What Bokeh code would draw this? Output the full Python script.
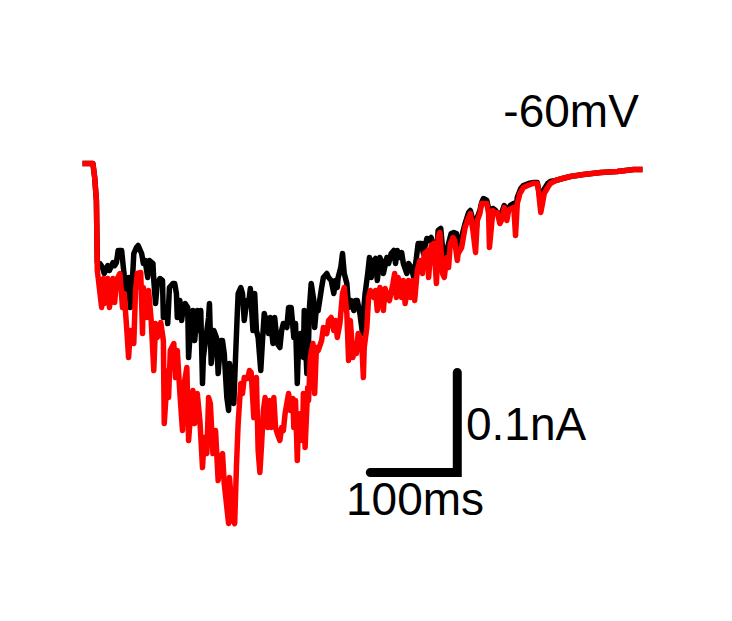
from bokeh.plotting import figure
from bokeh.models import Range1d, Label
from bokeh.embed import file_html
from bokeh.resources import INLINE

# Control trace (black): time in ms, current in nA (relative to holding)
t_black = [0, 12, 14, 16, 17, 20, 23, 25, 29, 31, 35, 37, 39, 41, 45, 47, 49, 52, 53, 55,
           58, 59, 62, 64, 68, 70, 72, 75, 77, 81, 82, 84, 86, 89, 92, 93, 97, 98, 100, 104,
           106, 108, 109, 112, 114, 116, 118, 121, 122, 124, 127, 129, 132, 133, 136, 138, 139, 143, 145, 146,
           148, 151, 154, 156, 159, 161, 163, 166, 168, 169, 171, 174, 176, 178, 179, 182, 184, 186, 189, 191,
           193, 196, 198, 200, 202, 205, 207, 209, 212, 214, 216, 219, 221, 224, 227, 229, 231, 235, 237, 240,
           243, 245, 247, 248, 251, 254, 255, 258, 260, 261, 263, 266, 267, 269, 271, 275, 277, 281, 283, 286,
           289, 291, 293, 294, 297, 299, 301, 304, 306, 309, 312, 314, 316, 319, 322, 323, 325, 328, 330, 332,
           335, 337, 339, 342, 345, 346, 350, 352, 355, 358, 360, 362, 365, 367, 369, 373, 375, 378, 381, 384,
           386, 390, 392, 396, 398, 401, 404, 407, 409, 412, 414, 416, 419, 421, 424, 427, 430, 432, 435, 437,
           440, 444, 446, 449, 452, 454, 457, 459, 461, 465, 467, 469, 472, 475, 478, 480, 483, 485, 489, 492,
           496, 498, 500, 504, 507, 513, 519, 523, 526, 528, 530, 535, 538, 544, 552, 561, 576, 596, 615, 634,
           644]
i_black = [0.000, 0.000, -0.014, -0.037, -0.099, -0.100, -0.104, -0.110, -0.102, -0.107, -0.099, -0.102, -0.099, -0.087, -0.087, -0.104, -0.120, -0.134, -0.114, -0.144,
           -0.107, -0.090, -0.084, -0.082, -0.090, -0.100, -0.097, -0.114, -0.097, -0.100, -0.117, -0.140, -0.120, -0.115, -0.117, -0.154, -0.144, -0.160, -0.124, -0.120,
           -0.120, -0.130, -0.154, -0.137, -0.157, -0.144, -0.140, -0.144, -0.194, -0.167, -0.147, -0.177, -0.147, -0.167, -0.147, -0.220, -0.194, -0.167, -0.154, -0.140,
           -0.200, -0.167, -0.174, -0.210, -0.177, -0.177, -0.190, -0.234, -0.247, -0.200, -0.210, -0.240, -0.194, -0.150, -0.130, -0.124, -0.130, -0.157, -0.137, -0.140,
           -0.125, -0.167, -0.130, -0.167, -0.174, -0.207, -0.177, -0.150, -0.160, -0.170, -0.154, -0.180, -0.154, -0.180, -0.184, -0.167, -0.160, -0.164, -0.144, -0.144,
           -0.174, -0.160, -0.220, -0.194, -0.170, -0.194, -0.147, -0.210, -0.177, -0.144, -0.120, -0.137, -0.164, -0.144, -0.147, -0.124, -0.114, -0.110, -0.114, -0.117,
           -0.130, -0.117, -0.124, -0.114, -0.104, -0.090, -0.110, -0.120, -0.144, -0.137, -0.147, -0.137, -0.137, -0.150, -0.170, -0.150, -0.130, -0.110, -0.094, -0.114,
           -0.097, -0.095, -0.117, -0.094, -0.100, -0.110, -0.094, -0.100, -0.090, -0.087, -0.100, -0.087, -0.094, -0.089, -0.100, -0.110, -0.100, -0.104, -0.114, -0.094,
           -0.080, -0.080, -0.090, -0.075, -0.077, -0.074, -0.084, -0.094, -0.067, -0.065, -0.084, -0.094, -0.087, -0.080, -0.070, -0.069, -0.070, -0.084, -0.080, -0.070,
           -0.060, -0.049, -0.047, -0.057, -0.074, -0.054, -0.047, -0.039, -0.035, -0.037, -0.045, -0.054, -0.045, -0.047, -0.050, -0.054, -0.047, -0.042, -0.047, -0.042,
           -0.040, -0.054, -0.034, -0.025, -0.022, -0.020, -0.019, -0.019, -0.034, -0.040, -0.027, -0.020, -0.018, -0.017, -0.015, -0.013, -0.011, -0.009, -0.008, -0.006,
           -0.006]

# Treated trace (red)
t_red = [0, 12, 14, 16, 17, 18, 22, 24, 25, 29, 31, 35, 37, 39, 43, 46, 48, 51, 53, 55,
         59, 61, 63, 67, 69, 70, 74, 76, 79, 82, 84, 86, 90, 93, 94, 98, 99, 101, 105, 107,
         109, 112, 115, 117, 120, 122, 124, 127, 129, 132, 135, 138, 140, 143, 145, 147, 150, 153, 156, 159,
         161, 163, 166, 168, 169, 173, 175, 177, 179, 182, 184, 186, 190, 192, 194, 197, 200, 202, 204, 206,
         208, 210, 213, 215, 217, 220, 222, 224, 227, 229, 231, 233, 237, 239, 242, 243, 245, 247, 248, 251,
         253, 254, 256, 259, 260, 262, 265, 267, 269, 271, 275, 277, 281, 283, 286, 289, 291, 293, 296, 299,
         301, 304, 306, 308, 311, 313, 315, 317, 321, 323, 324, 327, 329, 331, 335, 337, 339, 342, 344, 346,
         348, 351, 353, 357, 359, 361, 363, 367, 369, 371, 375, 377, 380, 382, 385, 388, 391, 393, 397, 398,
         401, 404, 407, 409, 411, 414, 416, 419, 421, 423, 426, 428, 431, 432, 436, 438, 440, 444, 446, 449,
         452, 454, 457, 459, 461, 465, 467, 468, 472, 474, 477, 480, 483, 485, 488, 490, 493, 496, 498, 500,
         503, 507, 512, 518, 523, 524, 527, 529, 531, 535, 538, 544, 552, 561, 576, 596, 615, 634, 644]
i_red = [0.000, 0.000, -0.014, -0.037, -0.107, -0.114, -0.144, -0.115, -0.140, -0.115, -0.144, -0.115, -0.139, -0.117, -0.110, -0.144, -0.130, -0.167, -0.194, -0.167,
         -0.180, -0.127, -0.110, -0.109, -0.170, -0.124, -0.154, -0.127, -0.157, -0.207, -0.160, -0.174, -0.159, -0.177, -0.260, -0.207, -0.234, -0.187, -0.180, -0.214,
         -0.187, -0.230, -0.267, -0.220, -0.204, -0.277, -0.254, -0.227, -0.260, -0.230, -0.257, -0.304, -0.274, -0.290, -0.234, -0.240, -0.290, -0.267, -0.317, -0.294,
         -0.290, -0.320, -0.344, -0.360, -0.314, -0.357, -0.360, -0.304, -0.260, -0.220, -0.230, -0.214, -0.215, -0.207, -0.209, -0.254, -0.214, -0.287, -0.309, -0.280,
         -0.247, -0.234, -0.264, -0.237, -0.264, -0.234, -0.264, -0.270, -0.277, -0.264, -0.267, -0.250, -0.230, -0.247, -0.235, -0.264, -0.237, -0.297, -0.270, -0.250,
         -0.277, -0.230, -0.284, -0.224, -0.237, -0.194, -0.180, -0.230, -0.184, -0.187, -0.177, -0.164, -0.170, -0.157, -0.154, -0.167, -0.157, -0.174, -0.160, -0.130,
         -0.124, -0.150, -0.197, -0.157, -0.194, -0.180, -0.190, -0.170, -0.177, -0.214, -0.184, -0.164, -0.134, -0.127, -0.134, -0.127, -0.147, -0.124, -0.130, -0.147,
         -0.125, -0.134, -0.137, -0.120, -0.110, -0.134, -0.114, -0.134, -0.117, -0.140, -0.117, -0.134, -0.117, -0.137, -0.107, -0.097, -0.110, -0.090, -0.087, -0.114,
         -0.082, -0.080, -0.120, -0.074, -0.069, -0.110, -0.114, -0.094, -0.104, -0.080, -0.074, -0.077, -0.097, -0.090, -0.084, -0.074, -0.064, -0.054, -0.050, -0.067,
         -0.089, -0.057, -0.050, -0.040, -0.040, -0.040, -0.050, -0.084, -0.047, -0.050, -0.049, -0.060, -0.055, -0.044, -0.057, -0.047, -0.045, -0.044, -0.072, -0.040,
         -0.030, -0.024, -0.022, -0.020, -0.020, -0.024, -0.049, -0.040, -0.030, -0.024, -0.020, -0.017, -0.015, -0.013, -0.011, -0.009, -0.008, -0.006, -0.006]

# Scale bar sizes and labels
scale_ms = 100
scale_nA = 0.1
scale_t0 = 331      # ms, left end of horizontal bar
scale_i0 = -0.309   # nA, level of horizontal bar
label_time = "100ms"
label_current = "0.1nA"
label_voltage = "-60mV"

p = figure(width=732, height=621, output_backend="svg", toolbar_location=None,
           x_range=Range1d(-94.3, 747.5), y_range=Range1d(-0.458, 0.163),
           min_border=0, min_border_left=0, min_border_right=0,
           min_border_top=0, min_border_bottom=0)
p.axis.visible = False
p.xgrid.visible = False
p.ygrid.visible = False
p.outline_line_color = None
p.background_fill_color = "white"
p.border_fill_color = "white"

p.line(t_black, i_black, line_color="black", line_width=5.5, line_join="round")
p.line(t_red, i_red, line_color="#ff0000", line_width=5.5, line_join="round")

# scale bar
t1 = scale_t0 + scale_ms
p.line([scale_t0, t1, t1], [scale_i0, scale_i0, scale_i0 + scale_nA],
       line_color="black", line_width=9, line_cap="round", line_join="miter")

font = "Liberation Sans"
p.add_layout(Label(x=t1 + 10, y=scale_i0 + 0.049, text=label_current,
                   text_font=font, text_font_size="46px", text_color="black",
                   text_baseline="alphabetic", text_align="left"))
p.add_layout(Label(x=scale_t0 - 28, y=scale_i0 - 0.026, text=label_time,
                   text_font=font, text_font_size="46px", text_color="black",
                   text_baseline="alphabetic", text_align="left"))
p.add_layout(Label(x=484, y=0.053, text=label_voltage,
                   text_font=font, text_font_size="46px", text_color="black",
                   text_baseline="alphabetic", text_align="left"))

open("out.html", "w").write(file_html(p, INLINE))
